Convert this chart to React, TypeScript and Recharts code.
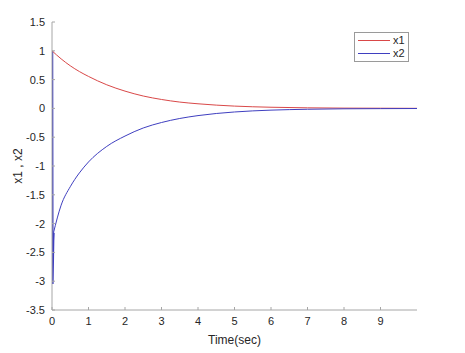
import React from "react";
import { LineChart, Line, XAxis, YAxis } from "recharts";

// time samples (sec)
const times = [0, 0.25, 0.5, 0.75, 1, 1.5, 2, 2.5, 3, 3.5, 4, 5, 6, 7, 8, 9, 10];
const x1Values = [1, 0.86, 0.74, 0.64, 0.555, 0.41, 0.3, 0.215, 0.155, 0.11, 0.08, 0.04, 0.02, 0.01, 0.005, 0.003, 0.001];

const x2Times = [0.04, 0.25, 0.5, 0.75, 1, 1.5, 2, 2.5, 3, 3.5, 4, 5, 6, 7, 8, 9, 10];
const x2Values = [-2.16, -1.68, -1.36, -1.12, -0.93, -0.66, -0.48, -0.34, -0.245, -0.175, -0.125, -0.062, -0.03, -0.015, -0.007, -0.004, -0.002];

// initial transient of x2 right at t = 0
const spikeTimes = [0, 0.01, 0.03, 0.04];
const spikeValues = [1, -3.05, -2.3, -2.16];

const xTicks = [0, 1, 2, 3, 4, 5, 6, 7, 8, 9];
const yTicks = [1.5, 1, 0.5, 0, -0.5, -1, -1.5, -2, -2.5, -3, -3.5];

const RED = "#d94848";
const BLUE = "#3f3fc0";
const AXIS = "#a6a6a6";
const TEXT = "#262626";
const FONT = "'Liberation Sans', Arial, Helvetica, sans-serif";

const x1Data = times.map((t, i) => ({ t, v: x1Values[i] }));
const x2Data = x2Times.map((t, i) => ({ t, v: x2Values[i] }));
const spikeData = spikeTimes.map((t, i) => ({ t, v: spikeValues[i] }));

const tickStyle = { fill: TEXT, fontSize: 11, fontFamily: FONT };

function LegendBox() {
  const items = [
    { name: "x1", color: RED },
    { name: "x2", color: BLUE },
  ];
  return (
    <div
      style={{
        position: "absolute",
        left: 354,
        top: 32,
        border: "1px solid #9a9a9a",
        background: "#fff",
        padding: "1px 3px 1px 2px",
        fontFamily: FONT,
        fontSize: 11,
        color: TEXT,
        lineHeight: "13px",
      }}
    >
      {items.map((it) => (
        <div key={it.name} style={{ display: "flex", alignItems: "center" }}>
          <svg width={34} height={13}>
            <line x1={1} x2={33} y1={6.5} y2={6.5} stroke={it.color} strokeWidth={1} />
          </svg>
          <span style={{ marginLeft: 2 }}>{it.name}</span>
        </div>
      ))}
    </div>
  );
}

export default function App() {
  return (
    <div style={{ position: "absolute", left: 0, top: 0, width: 465, height: 353, background: "#fff" }}>
      <LineChart width={465} height={353} margin={{ top: 22, right: 48, bottom: 13, left: 0 }}>
        <XAxis
          type="number"
          dataKey="t"
          domain={[0, 10]}
          ticks={xTicks}
          allowDataOverflow
          stroke={AXIS}
          tickSize={-3}
          tickMargin={10}
          height={30}
          tick={tickStyle}
          label={{
            content: ({ viewBox }: any) => (
              <text
                x={viewBox.x + viewBox.width / 2}
                y={viewBox.y + 30}
                textAnchor="middle"
                dominantBaseline="central"
                fill={TEXT}
                fontSize={12}
                fontFamily={FONT}
              >
                Time(sec)
              </text>
            ),
          }}
        />
        <YAxis
          type="number"
          dataKey="v"
          domain={[-3.5, 1.5]}
          ticks={yTicks}
          allowDataOverflow
          stroke={AXIS}
          tickSize={-3}
          tickMargin={10}
          width={52}
          tick={tickStyle}
          label={{
            content: ({ viewBox }: any) => {
              const cx = 18;
              const cy = viewBox.y + viewBox.height / 2;
              return (
                <text
                  x={cx}
                  y={cy}
                  transform={`rotate(-90, ${cx}, ${cy})`}
                  textAnchor="middle"
                  dominantBaseline="central"
                  fill={TEXT}
                  fontSize={12}
                  fontFamily={FONT}
                >
                  x1 , x2
                </text>
              );
            },
          }}
        />
        <Line data={spikeData} dataKey="v" type="linear" stroke={BLUE} strokeWidth={2.5} dot={false} isAnimationActive={false} legendType="none" />
        <Line data={x1Data} dataKey="v" name="x1" type="monotone" stroke={RED} strokeWidth={1} dot={false} isAnimationActive={false} />
        <Line data={x2Data} dataKey="v" name="x2" type="monotone" stroke={BLUE} strokeWidth={1} dot={false} isAnimationActive={false} />
      </LineChart>
      <LegendBox />
    </div>
  );
}
